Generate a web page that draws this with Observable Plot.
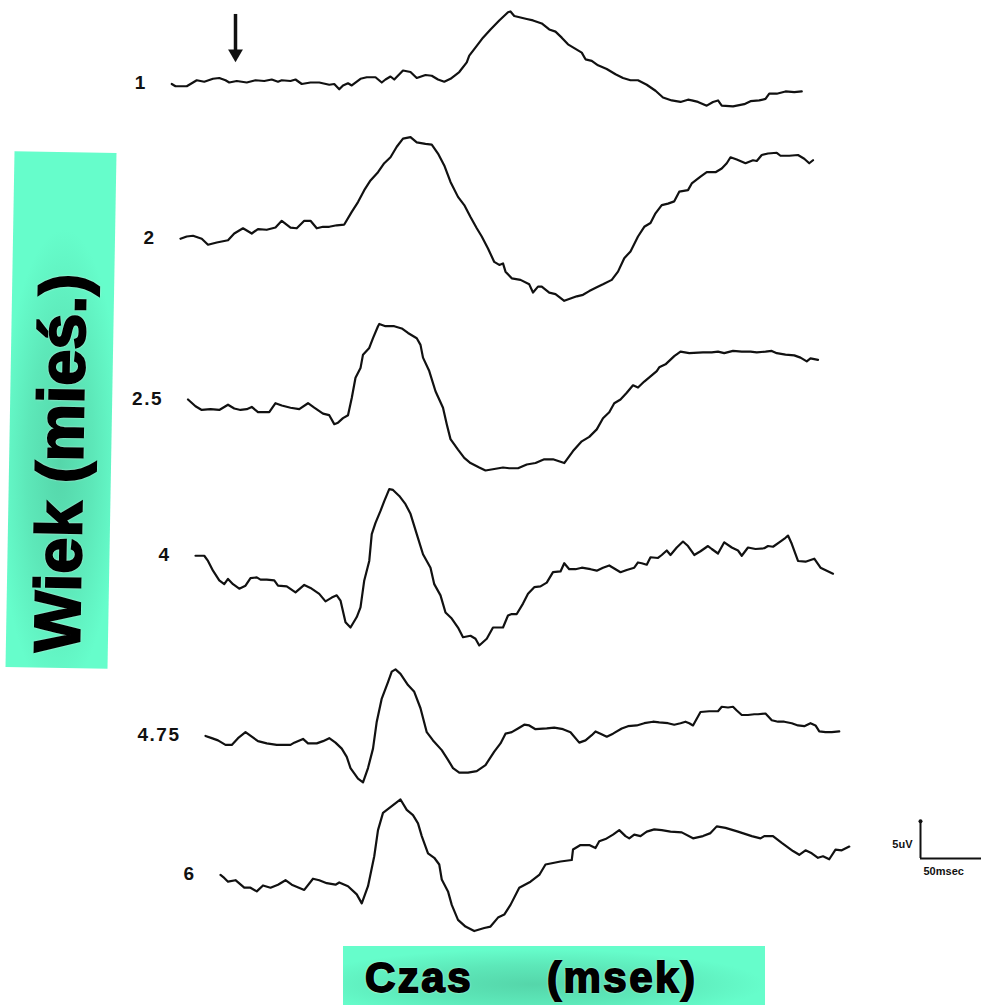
<!DOCTYPE html>
<html>
<head>
<meta charset="utf-8">
<script src="https://cdn.jsdelivr.net/npm/d3@7"></script>
<script src="https://cdn.jsdelivr.net/npm/@observablehq/plot@0.6"></script>
<style>
  html, body { margin: 0; padding: 0; background: #fff; overflow: hidden; }
  #wrap { position: relative; width: 981px; height: 1005px; overflow: hidden; background: #fff; }
  #chart { position: absolute; left: 0; top: 0; }
  #ylab {
    position: absolute; left: 10px; top: 152px; width: 102px; height: 516px;
    background: radial-gradient(ellipse 60% 45% at 50% 60%, #55D6AA 0%, #5DE8B9 55%, #66FDCB 100%);
    transform: rotate(1deg);
  }
  #ylab span {
    position: absolute; left: 50%; top: 311px;
    transform: translate(-50%, -50%) rotate(-90deg);
    white-space: nowrap; font-family: "Liberation Sans", Arial, sans-serif; font-weight: bold;
    font-size: 65px; line-height: 1; color: #000; -webkit-text-stroke: 2px #000;
    text-shadow: 0 0 3px #fff, 0 0 2px #fff;
  }
  #xlab {
    position: absolute; left: 343px; top: 946px; width: 422px; height: 59px;
    background: radial-gradient(ellipse 55% 60% at 45% 65%, #55D6AA 0%, #5DE8B9 55%, #66FDCB 100%);
  }
  #xlab span {
    position: absolute; top: 11px; white-space: nowrap;
    font-family: "Liberation Sans", Arial, sans-serif; font-weight: bold;
    font-size: 42px; line-height: 1; letter-spacing: 2.5px; color: #000; -webkit-text-stroke: 1.8px #000;
    text-shadow: 0 0 3px #fff, 0 0 2px #fff;
  }
</style>
</head>
<body>
<div id="wrap">
  <div id="chart"></div>
  <div id="ylab"><span>Wiek (mieś.)</span></div>
  <div id="xlab"><span style="left:22px">Czas</span><span style="left:204px">(msek)</span></div>
</div>
<script>
// Age of each recording (months)
const ages = ["1", "2", "2.5", "4", "4.75", "6"];

// Time (msec, stimulus at 0) and amplitude (µV) for each trace
const trace1Time = [-51,-48,-39,-31,-25,-18,-13,-8,-5,1,9,16,23,29,34,37,44,48,53,60,67,75,79,83,86,90,93,100,105,112,117,120,124,127,134,140,145,152,157,162,167,172,179,185,187,193,198,204,211,218,220,223,228,233,238,245,251,256,261,266,271,277,280,285,290,297,304,310,316,322,329,336,342,349,356,362,365,370,377,382,386,389,398,407,412,419,424,427,433,440,447,453];
const trace1Volt = [-0.4,-0.7,-0.7,0.1,-0.1,0.3,0.4,0.1,-0.2,0.0,-0.2,0.1,0.0,0.2,-0.1,0.1,0.0,0.2,-0.4,-0.2,-0.2,-0.5,-0.4,-1.1,-0.6,-0.3,-0.6,0.3,0.5,0.5,-0.2,0.2,0.6,0.2,1.4,1.2,0.4,0.8,0.7,0.2,-0.1,0.3,1.2,2.5,3.4,4.7,5.8,6.9,8.1,9.2,9.3,8.7,8.5,8.3,8.1,7.7,6.9,6.6,5.8,4.9,4.4,3.8,2.9,2.7,2.1,1.6,0.9,0.4,0.1,0.1,-0.5,-1.3,-2.2,-2.6,-2.8,-2.5,-2.6,-2.8,-3.3,-2.8,-2.6,-3.3,-3.4,-3.1,-2.7,-2.6,-2.4,-1.7,-1.7,-1.4,-1.5,-1.4];

const trace2Time = [-44,-39,-34,-27,-22,-15,-6,-1,6,13,18,25,32,37,44,49,55,60,65,70,75,81,87,93,98,103,108,114,119,124,129,134,140,145,152,157,162,167,172,178,183,188,193,197,202,207,211,214,216,221,228,235,238,242,245,251,256,263,268,273,278,283,289,294,301,306,311,316,322,327,332,336,341,346,351,355,362,365,372,377,384,389,393,396,401,408,414,417,421,426,433,436,443,450,455,459,462];
const trace2Volt = [-0.1,0.2,0.3,-0.1,-0.9,-0.6,-0.3,0.6,1.3,0.6,1.2,1.1,1.4,2.3,1.4,1.3,2.3,2.3,1.3,1.5,1.5,1.7,1.8,3.5,4.8,6.4,7.7,8.8,10.0,10.8,12.2,13.3,13.5,12.8,12.6,12.5,11.3,9.7,7.5,5.5,4.4,2.8,1.3,0.2,-1.4,-3.2,-3.6,-3.4,-4.5,-5.4,-5.6,-6.2,-7.3,-6.5,-6.5,-7.3,-7.5,-8.4,-8.1,-7.8,-7.6,-7.1,-6.6,-6.2,-5.6,-4.5,-2.7,-1.8,0.2,1.5,2.0,3.3,4.4,4.6,4.9,6.2,6.4,7.3,8.2,8.8,8.8,9.3,10.0,10.8,10.5,10.0,10.4,10.3,11.1,11.3,11.4,11.0,11.0,11.1,10.6,10.0,10.4];

const trace3Time = [-38,-32,-27,-20,-13,-6,-1,4,9,13,18,27,32,37,44,51,58,63,70,75,79,82,86,90,93,96,100,102,107,110,114,115,120,127,133,138,145,148,150,155,160,166,169,172,178,183,188,195,200,207,214,219,226,233,240,247,254,263,270,277,283,289,294,299,303,308,313,318,322,327,332,337,339,344,351,356,363,374,381,386,391,398,405,412,417,424,429,433,440,447,452,457,460,466];
const trace3Volt = [-0.6,-1.5,-2.0,-1.9,-2.0,-1.3,-1.8,-2.0,-1.9,-1.6,-2.3,-2.3,-1.1,-1.4,-1.7,-1.9,-1.1,-1.7,-2.5,-2.7,-3.9,-3.7,-3.1,-2.7,-0.4,2.3,3.6,5.4,6.3,7.6,9.2,9.5,9.2,9.2,8.9,8.3,7.6,6.7,5.0,3.2,0.5,-1.7,-3.9,-5.9,-7.3,-8.4,-9.1,-9.7,-10.1,-9.9,-9.7,-9.8,-9.8,-9.3,-9.1,-8.6,-8.6,-9.1,-7.5,-6.2,-5.6,-4.6,-3.1,-2.3,-1.1,-0.6,0.3,1.3,1.0,1.8,2.5,3.2,3.7,4.1,5.2,5.8,5.6,5.7,5.7,5.8,5.6,5.9,5.8,5.8,5.7,5.8,5.9,5.6,5.4,5.3,5.0,4.5,4.9,4.7];

const trace4Time = [-32,-25,-22,-18,-13,-9,-6,-2,3,8,12,17,20,25,31,34,41,48,55,60,67,72,77,81,84,88,92,97,100,103,107,109,112,116,119,123,126,131,136,140,145,150,156,159,164,168,173,178,182,188,192,195,201,206,211,214,218,221,225,230,234,239,244,249,254,260,263,267,272,277,284,289,294,299,305,308,313,319,322,325,329,332,338,341,345,348,353,358,362,367,372,378,381,386,391,397,402,405,410,416,423,426,430,435,440,442,445,450,456,463,468,473,478];
const trace4Volt = [-0.5,-0.5,-1.2,-2.5,-3.8,-4.3,-3.6,-4.3,-4.9,-4.5,-3.5,-3.4,-3.7,-3.7,-3.8,-4.5,-4.6,-5.4,-4.4,-4.8,-5.6,-6.6,-6.1,-5.8,-6.5,-9.4,-10.1,-8.7,-7.4,-3.8,-1.2,2.4,3.9,5.5,6.8,8.4,8.3,7.5,6.4,5.1,2.4,-0.3,-2.1,-4.3,-5.8,-8.1,-8.9,-10.1,-11.4,-11.2,-11.6,-12.5,-11.6,-10.1,-10.1,-10.1,-8.5,-8.3,-8.3,-6.9,-5.6,-4.7,-4.6,-4.1,-2.7,-2.6,-1.5,-2.3,-2.3,-2.1,-2.3,-2.5,-2.1,-1.8,-2.4,-2.7,-2.4,-2.1,-1.4,-1.5,-1.7,-0.7,-0.8,-0.4,0.2,-0.4,0.6,1.4,0.8,-0.4,0.1,0.8,0.4,-0.2,1.3,0.6,0.2,-0.5,0.6,0.4,0.5,0.8,0.7,1.3,1.9,2.2,1.1,-1.2,-1.3,-0.9,-2.1,-2.5,-2.9];

const trace5Time = [-24,-19,-14,-8,-3,2,8,13,18,25,33,40,44,47,54,58,65,70,75,80,85,89,92,98,102,106,110,113,117,122,125,128,132,138,143,148,153,158,165,170,174,179,186,193,200,207,212,216,221,226,231,235,240,249,255,262,268,275,280,285,288,292,297,302,309,314,321,327,334,339,346,351,356,360,363,366,372,379,386,389,394,398,401,405,410,415,418,424,429,434,439,445,450,455,460,464,467,472,477,483];
const trace5Volt = [-3.6,-3.9,-4.2,-4.8,-4.8,-3.9,-3.1,-3.7,-4.3,-4.6,-4.8,-4.8,-4.8,-4.5,-4.0,-4.6,-4.6,-4.3,-3.9,-4.5,-5.3,-6.4,-7.9,-9.3,-9.8,-7.9,-5.3,-1.7,1.4,3.6,5.0,5.3,4.7,3.2,2.3,0.1,-3.1,-4.2,-5.5,-6.8,-7.9,-8.5,-8.5,-8.3,-7.5,-5.7,-4.6,-3.3,-3.1,-2.6,-2.1,-2.2,-2.7,-2.6,-2.5,-2.7,-3.1,-4.5,-4.2,-3.5,-3.0,-3.3,-3.7,-3.3,-2.6,-2.3,-2.2,-1.9,-1.7,-1.8,-1.9,-2.1,-1.9,-1.7,-1.9,-2.2,-0.4,-0.3,-0.3,0.3,0.2,0.3,-0.2,-0.8,-0.8,-0.7,-0.7,-0.6,-1.5,-1.7,-1.7,-1.9,-2.2,-2.3,-1.9,-2.2,-3.0,-3.1,-3.1,-3.0];

const trace6Time = [-12,-9,-6,0,7,12,17,22,28,34,40,45,55,62,67,73,80,83,90,97,101,106,111,114,118,125,132,137,142,146,149,154,159,163,165,170,173,178,184,191,199,204,210,215,220,227,236,243,248,260,269,270,276,283,288,291,296,302,307,312,315,319,324,329,335,341,348,357,366,374,380,385,392,402,413,420,423,430,437,446,451,456,461,466,470,475,480,485,491];
const trace6Volt = [-1.2,-1.6,-2.1,-1.9,-2.9,-2.9,-3.4,-2.6,-2.9,-2.5,-1.9,-2.5,-3.2,-1.7,-1.9,-2.3,-2.5,-2.2,-2.7,-3.8,-5.0,-2.7,1.3,4.8,7.1,8.0,8.9,7.5,6.8,5.7,4.0,1.7,1.1,0.2,-1.8,-3.4,-5.2,-7.2,-8.1,-8.7,-8.3,-8.1,-6.9,-6.5,-5.2,-2.9,-2.1,-1.2,0.2,0.6,0.8,2.2,2.8,2.8,2.4,3.3,3.6,4.2,4.8,4.0,3.7,4.2,4.0,4.6,4.9,4.8,4.6,4.5,3.7,4.0,4.4,5.3,5.1,4.6,4.0,3.7,4.0,4.0,3.1,2.0,1.5,2.1,1.7,1.1,1.3,0.9,2.2,2.1,2.6];

// Stimulus arrow (msec, µV) above trace 1
const stimulusTime = [0];
const stimulusArrowVolt = [8.9, 2.5];

// Calibration bar: 50 msec x 5 µV
const scaleBarTime = [548, 598];
const scaleBarVolt = [1, 6];
const scaleBarLabels = ["5uV", "50msec"];

const traceTimes = [trace1Time, trace2Time, trace3Time, trace4Time, trace5Time, trace6Time];
const traceVolts = [trace1Volt, trace2Volt, trace3Volt, trace4Volt, trace5Volt, trace6Volt];

const rows = ages.flatMap((age, i) =>
  traceTimes[i].map((t, j) => ({age, time: t, volt: traceVolts[i][j]})));

const arrowRows = [{age: ages[0], time: stimulusTime[0], top: stimulusArrowVolt[0], tip: stimulusArrowVolt[1]}];
const scaleRows = [{
  age: ages[ages.length - 1],
  t0: scaleBarTime[0], t1: scaleBarTime[1],
  v0: scaleBarVolt[0], v1: scaleBarVolt[1],
  vm: (scaleBarVolt[0] + scaleBarVolt[1]) / 2,
  yLabel: scaleBarLabels[0], xLabel: scaleBarLabels[1]
}];

const ink = "#111";

const svg = Plot.plot({
  width: 981,
  height: 945,
  marginLeft: 160,
  marginRight: 46,
  marginTop: 0,
  marginBottom: 0,
  facet: {marginTop: 0, marginRight: 0, marginBottom: 0, marginLeft: 0, label: null},
  x: {domain: [-60, 560], axis: null},
  y: {domain: [-10.5, 10.5], axis: null},
  fy: {domain: ages, padding: 0, axis: null},
  style: {fontFamily: "'Liberation Sans', Arial, sans-serif", background: "transparent", overflow: "visible"},
  marks: [
    Plot.line(rows, {x: "time", y: "volt", fy: "age", stroke: ink, strokeWidth: 2.2, strokeLinejoin: "round", strokeLinecap: "round"}),
    Plot.text(rows, Plot.selectFirst({
      x: "time", y: "volt", fy: "age", text: "age",
      textAnchor: "end", dx: -25, dy: -1, fontSize: 19, fontWeight: "bold", fill: ink
    })),
    // stimulus arrow
    Plot.ruleX(arrowRows, {x: "time", y1: "top", y2: "tip", fy: "age", stroke: ink, strokeWidth: 3.5, insetBottom: 10}),
    Plot.dot(arrowRows, {x: "time", y: "tip", fy: "age", symbol: "triangle", r: 5.5, rotate: 180, fill: ink, stroke: null, dy: -8.5}),
    // calibration bar
    Plot.ruleX(scaleRows, {x: "t0", y1: "v0", y2: "v1", fy: "age", stroke: ink, strokeWidth: 2}),
    Plot.ruleY(scaleRows, {y: "v0", x1: "t0", x2: "t1", fy: "age", stroke: ink, strokeWidth: 2}),
    Plot.dot(scaleRows, {x: "t0", y: "v1", fy: "age", r: 2, fill: ink, stroke: null}),
    Plot.text(scaleRows, {x: "t0", y: "vm", fy: "age", text: "yLabel", textAnchor: "end", dx: -8, dy: 5, fontSize: 11, fontWeight: "bold", fill: ink}),
    Plot.text(scaleRows, {x: "t0", y: "v0", fy: "age", text: "xLabel", textAnchor: "start", dx: 3, dy: 13, fontSize: 11, fontWeight: "bold", fill: ink})
  ]
});

d3.select(svg).selectAll("text")
  .filter(function() { return ages.includes(this.textContent); })
  .style("letter-spacing", "1.5px");

document.getElementById("chart").appendChild(svg);
</script>
</body>
</html>
